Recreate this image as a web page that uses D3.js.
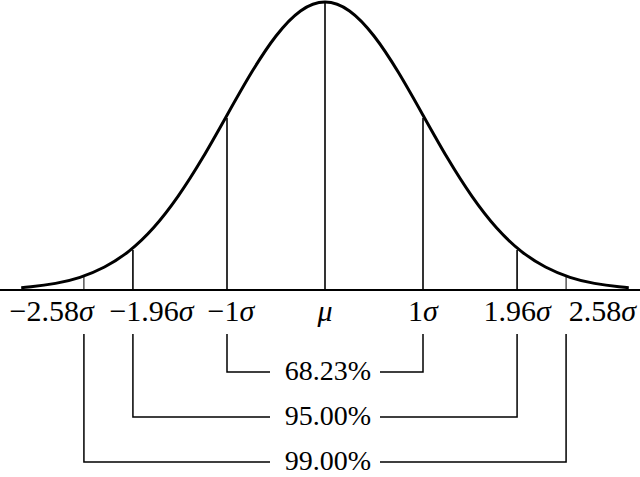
<!DOCTYPE html>
<html>
<head>
<meta charset="utf-8">
<script src="https://cdn.jsdelivr.net/npm/d3@7"></script>
<style>
  html, body { margin: 0; padding: 0; background: #fff; }
  svg { display: block; }
  text { font-family: "Liberation Serif", "DejaVu Serif", serif; fill: #000; }
</style>
</head>
<body>
<script>
// curve heights (relative to the peak), at z in sigma units
const curveZ = [-3.1, -3, -2.75, -2.5, -2.25, -2, -1.75, -1.5, -1.25, -1, -0.75, -0.5, -0.25, 0,
                0.25, 0.5, 0.75, 1, 1.25, 1.5, 1.75, 2, 2.25, 2.5, 2.75, 3, 3.1];
const curveH = [0.008, 0.011, 0.023, 0.044, 0.080, 0.135, 0.216, 0.325, 0.458, 0.607, 0.755, 0.882, 0.969, 1,
                0.969, 0.882, 0.755, 0.607, 0.458, 0.325, 0.216, 0.135, 0.080, 0.044, 0.023, 0.011, 0.008];

// interval boundaries as drawn (sigma units), line heights there, and coverage
const bounds = [1, 1.96, 2.46];
const boundH = [0.597, 0.139, 0.045];
const coverage = ["68.23%", "95.00%", "99.00%"];

// tick labels under the baseline and where they sit (sigma units)
const tickNum = ["\u22122.58", "\u22121.96", "\u22121", "\u03bc", "1", "1.96", "2.58"];
const tickAt = [-2.79, -1.77, -0.96, 0, 1.0, 1.96, 2.83];

const width = 640, height = 477;

const x = d3.scaleLinear().domain([-1, 1]).range([227, 423]);
const y = d3.scaleLinear().domain([0, 1]).range([290, 2]);
const row = d3.scalePoint().domain(coverage).range([372, 462]);

const svg = d3.select('body').append('svg')
    .attr('width', width)
    .attr('height', height);

// baseline
svg.append('line')
    .attr('x1', 0).attr('x2', width)
    .attr('y1', y(0)).attr('y2', y(0))
    .attr('stroke', '#000').attr('stroke-width', 1.8);

// vertical lines under the curve
const verts = [{z: 0, h: 1, w: 1.6}];
bounds.forEach((b, i) => {
  const w = i === 2 ? 1 : 1.6;
  verts.push({z: -b, h: boundH[i], w: w});
  verts.push({z: b, h: boundH[i], w: w});
});

svg.selectAll('line.vert')
  .data(verts)
  .join('line')
    .attr('class', 'vert')
    .attr('x1', d => x(d.z)).attr('x2', d => x(d.z))
    .attr('y1', y(0)).attr('y2', d => y(d.h))
    .attr('stroke', '#000')
    .attr('stroke-width', d => d.w);

// the bell curve
const spline = d3.line().x(d => x(d[0])).y(d => y(d[1])).curve(d3.curveNatural);
svg.append('path')
    .datum(curveZ.map((z, i) => [z, curveH[i]]))
    .attr('d', spline)
    .attr('fill', 'none')
    .attr('stroke', '#000')
    .attr('stroke-width', 3);

// tick labels
const ticks = svg.selectAll('text.tick')
  .data(tickNum)
  .join('text')
    .attr('class', 'tick')
    .attr('x', (d, i) => x(tickAt[i]))
    .attr('y', 321)
    .attr('text-anchor', 'middle')
    .style('font-size', '30px');

ticks.append('tspan')
    .style('font-style', d => d === '\u03bc' ? 'italic' : 'normal')
    .text(d => d);
ticks.filter(d => d !== '\u03bc').append('tspan')
    .style('font-style', 'italic')
    .text('\u03c3');

// coverage brackets
const stubTop = 334, gap = 55;
const br = svg.selectAll('g.bracket')
  .data(bounds)
  .join('g')
    .attr('class', 'bracket');

br.append('path')
    .attr('d', (b, i) => {
      const yy = row(coverage[i]);
      return `M${x(-b)},${stubTop}V${yy}H${x(0) - gap}`
           + `M${x(0) + gap},${yy}H${x(b)}V${stubTop}`;
    })
    .attr('fill', 'none')
    .attr('stroke', '#000')
    .attr('stroke-width', 1.5);

br.append('text')
    .attr('x', x(0) + 3)
    .attr('y', (b, i) => row(coverage[i]) + 8)
    .attr('text-anchor', 'middle')
    .style('font-size', '28px')
    .text((b, i) => coverage[i]);
</script>
</body>
</html>
